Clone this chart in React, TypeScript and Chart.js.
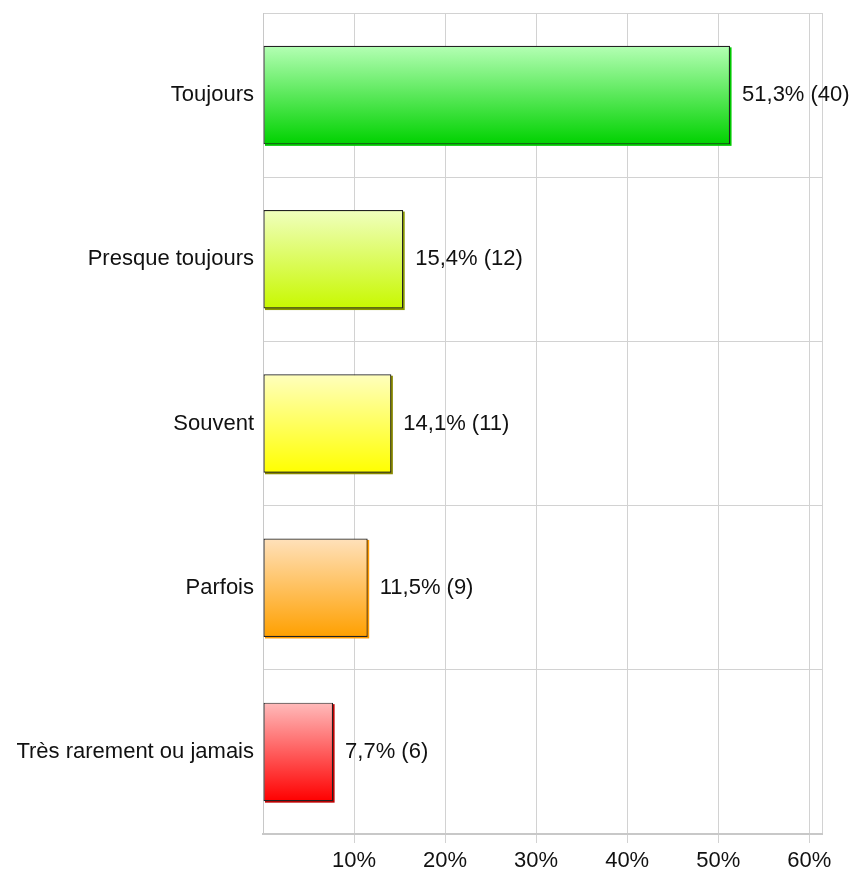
import React, { useEffect, useRef } from "react";
import { Chart, registerables } from "chart.js";

Chart.register(...registerables);

const categories = ["Toujours", "Presque toujours", "Souvent", "Parfois", "Très rarement ou jamais"];
const percents = [51.3, 15.4, 14.1, 11.5, 7.7];
const counts = [40, 12, 11, 9, 6];
const tickValues = [0, 10, 20, 30, 40, 50, 60, 61.4];
const topColors = ["#b4ffb4", "#f0ffbe", "#ffffbe", "#ffe1bb", "#ffbbbb"];
const bottomColors = ["#00d200", "#c8f800", "#ffff00", "#ffa000", "#ff0000"];
const shadowColors = ["#00c800", "#8a9a00", "#8a8a00", "#ff9a00", "#c00000"];

const FONT = "'Liberation Sans', Arial, sans-serif";

export default function App() {
  const ref = useRef<HTMLCanvasElement | null>(null);

  useEffect(() => {
    if (!ref.current) return;

    const labelPlugin = {
      id: "valueLabels",
      beforeDatasetsDraw(chart: any) {
        const ctx = chart.ctx;
        const meta = chart.getDatasetMeta(0);
        ctx.save();
        meta.data.forEach((bar: any, i: number) => {
          const left = Math.min(bar.base, bar.x);
          const w = Math.abs(bar.x - bar.base);
          const top = bar.y - bar.height / 2;
          ctx.fillStyle = shadowColors[i];
          ctx.fillRect(left + 1.5, top + 1.5, w, bar.height);
        });
        ctx.restore();
      },
      afterDatasetsDraw(chart: any) {
        const ctx = chart.ctx;
        const meta = chart.getDatasetMeta(0);
        ctx.save();
        ctx.font = `22px ${FONT}`;
        ctx.fillStyle = "#111111";
        ctx.textBaseline = "middle";
        ctx.textAlign = "left";
        meta.data.forEach((bar: any, i: number) => {
          const txt = `${percents[i].toFixed(1).replace(".", ",")}% (${counts[i]})`;
          ctx.fillText(txt, bar.x + 12, bar.y);
        });
        ctx.restore();
      },
    };

    const chart = new Chart(ref.current, {
      type: "bar",
      data: {
        labels: categories,
        datasets: [
          {
            data: percents,
            backgroundColor: (c: any) => {
              const i = c.dataIndex;
              if (i === undefined || i === null) return bottomColors[0];
              const ch = c.chart;
              const y = ch.scales && ch.scales.y;
              if (!y) return bottomColors[i];
              const center = y.getPixelForValue(i);
              const half = (y.height / categories.length) * 0.3;
              if (!isFinite(center) || !isFinite(half) || half <= 0) return bottomColors[i];
              const g = ch.ctx.createLinearGradient(0, center - half, 0, center + half);
              g.addColorStop(0, topColors[i]);
              g.addColorStop(1, bottomColors[i]);
              return g;
            },
            borderColor: "#222222",
            borderWidth: 1.2,
            borderSkipped: false,
            categoryPercentage: 1,
            barPercentage: 0.6,
          },
        ],
      },
      options: {
        indexAxis: "y",
        animation: false,
        responsive: false,
        maintainAspectRatio: false,
        layout: { padding: { top: 13, right: 28, bottom: 0, left: 0 } },
        plugins: {
          legend: { display: false },
          tooltip: { enabled: false },
        },
        scales: {
          x: {
            min: 0,
            max: 61.4,
            afterBuildTicks: (scale: any) => {
              scale.ticks = tickValues.map((v) => ({ value: v }));
            },
            afterFit: (scale: any) => {
              scale.height = 39;
              scale.paddingLeft = 0;
              scale.paddingRight = 0;
            },
            ticks: {
              callback: (v: any) => (v === 0 || v === 61.4 ? "" : `${v}%`),
              font: { family: FONT, size: 22 },
              color: "#111111",
              padding: 5,
              maxRotation: 0,
              autoSkip: false,
            },
            grid: {
              color: "#d2d2d2",
              lineWidth: 1,
              tickLength: 9,
              tickColor: (c: any) =>
                c.tick && (c.tick.value === 0 || c.tick.value === 61.4) ? "rgba(0,0,0,0)" : "#d2d2d2",
            },
            border: { color: "#c8c8c8", width: 2 },
          },
          y: {
            afterFit: (scale: any) => {
              scale.width = 263;
              scale.paddingTop = 0;
              scale.paddingBottom = 0;
            },
            ticks: {
              font: { family: FONT, size: 22 },
              color: "#111111",
              padding: 9,
            },
            grid: {
              color: "#d2d2d2",
              lineWidth: 1,
              offset: true,
              drawTicks: false,
            },
            border: { color: "#c8c8c8", width: 1 },
          },
        },
      },
      plugins: [labelPlugin],
    });

    return () => chart.destroy();
  }, []);

  return (
    <div style={{ position: "fixed", left: 0, top: 0, width: 850, height: 873, background: "#fff" }}>
      <canvas ref={ref} width={850} height={873} style={{ width: 850, height: 873, display: "block" }} />
    </div>
  );
}
